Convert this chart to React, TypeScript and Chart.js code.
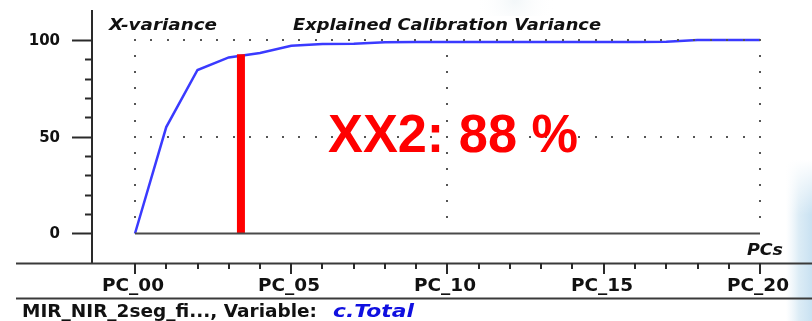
import React, { useEffect, useRef } from 'react';
import { Chart, registerables } from 'chart.js';

Chart.register(...registerables);

// ---- data ----
const pcNumbers = [0, 1, 2, 3, 4, 5, 6, 7, 8, 9, 10, 11, 12, 13, 14, 15, 16, 17, 18, 19, 20];
const xVariance = [0, 55, 84.5, 91, 93.3, 97, 97.9, 98.1, 98.8, 98.9, 98.9, 98.9, 98.9, 98.9, 98.9, 98.9, 98.9, 99.1, 100, 100, 100];
const markerPC = [3.39, 3.39];
const markerValue = [0, 92.6];
const yTickValues = [0, 50, 100];
const yTickLabels = ['0', '50', '100'];
const yMinorTicks = [10, 20, 30, 40, 60, 70, 80, 90];
const xTickValues = [0, 5, 10, 15, 20];
const xTickLabels = ['PC_00', 'PC_05', 'PC_10', 'PC_15', 'PC_20'];
const xMinorTicks = [1, 2, 3, 4, 6, 7, 8, 9, 11, 12, 13, 14, 16, 17, 18, 19];
const gridYValues = [50, 100];
const gridXValues = [0, 10, 20];
const titleLeft = 'X-variance';
const titleMain = 'Explained Calibration Variance';
const axisName = 'PCs';
const bigLabel = 'XX2: 88 %';
const footerText = 'MIR_NIR_2seg_fi..., Variable:';
const footerVar = 'c.Total';

function fitText(ctx: CanvasRenderingContext2D, text: string, x: number, y: number, w: number, font: string, color: string, align: 'left' | 'center' | 'right' = 'left') {
  ctx.save();
  ctx.font = font;
  ctx.fillStyle = color;
  ctx.textBaseline = 'alphabetic';
  ctx.textAlign = 'left';
  const m = ctx.measureText(text).width;
  const s = w / m;
  let x0 = x;
  if (align === 'center') x0 = x - w / 2;
  if (align === 'right') x0 = x - w;
  ctx.translate(x0, y);
  ctx.scale(s, 1);
  ctx.fillText(text, 0, 0);
  ctx.restore();
}

const decor = {
  id: 'decor',
  beforeDraw(chart: any) {
    const ctx: CanvasRenderingContext2D = chart.ctx;
    ctx.save();
    ctx.fillStyle = '#ffffff';
    ctx.fillRect(0, 0, chart.width, chart.height);
    // faint background smudges
    const g = ctx.createLinearGradient(786, 0, 812, 0);
    g.addColorStop(0, 'rgba(220,236,246,0)');
    g.addColorStop(0.5, 'rgba(205,228,242,0.7)');
    g.addColorStop(1, 'rgba(195,222,240,0.9)');
    ctx.fillStyle = g;
    ctx.fillRect(786, 160, 26, 161);
    const g3 = ctx.createLinearGradient(0, 160, 0, 215);
    g3.addColorStop(0, 'rgba(255,255,255,1)');
    g3.addColorStop(1, 'rgba(255,255,255,0)');
    ctx.fillStyle = g3;
    ctx.fillRect(786, 160, 26, 55);
    const g2 = ctx.createRadialGradient(515, 0, 2, 515, 0, 40);
    g2.addColorStop(0, 'rgba(232,240,244,0.5)');
    g2.addColorStop(1, 'rgba(255,255,255,0)');
    ctx.fillStyle = g2;
    ctx.fillRect(465, 0, 100, 16);
    ctx.restore();
  },
  beforeDatasetsDraw(chart: any) {
    const ctx: CanvasRenderingContext2D = chart.ctx;
    const xs = chart.scales.x;
    const ys = chart.scales.y;
    const area = chart.chartArea;
    ctx.save();
    // y axis line
    ctx.strokeStyle = '#2a2a2a';
    ctx.lineWidth = 2;
    ctx.beginPath();
    ctx.moveTo(area.left, area.top);
    ctx.lineTo(area.left, area.bottom);
    ctx.stroke();
    // y ticks
    yTickValues.forEach((v, i) => {
      const y = Math.round(ys.getPixelForValue(v)) + 0.5;
      ctx.beginPath();
      ctx.moveTo(area.left - 20, y);
      ctx.lineTo(area.left, y);
      ctx.stroke();
      ctx.font = 'bold 15px "DejaVu Sans"';
      ctx.fillStyle = '#111';
      ctx.textAlign = 'right';
      ctx.textBaseline = 'middle';
      ctx.fillText(yTickLabels[i], area.left - 32, y + 1);
    });
    yMinorTicks.forEach((v) => {
      const y = Math.round(ys.getPixelForValue(v)) + 0.5;
      ctx.beginPath();
      ctx.moveTo(area.left - 7, y);
      ctx.lineTo(area.left, y);
      ctx.stroke();
    });
    // bottom frame lines
    ctx.strokeStyle = '#3a3a3a';
    ctx.beginPath();
    ctx.moveTo(16, area.bottom + 0.5);
    ctx.lineTo(chart.width, area.bottom + 0.5);
    ctx.moveTo(16, area.bottom + 35.5);
    ctx.lineTo(chart.width, area.bottom + 35.5);
    ctx.stroke();
    // x ticks
    ctx.strokeStyle = '#2a2a2a';
    ctx.lineWidth = 2;
    xTickValues.forEach((v, i) => {
      const x = Math.round(xs.getPixelForValue(v));
      ctx.beginPath();
      ctx.moveTo(x, area.bottom);
      ctx.lineTo(x, area.bottom + 11);
      ctx.stroke();
      fitText(ctx, xTickLabels[i], x - 2, area.bottom + 28, 62, 'bold 18px "DejaVu Sans"', '#111', 'center');
    });
    xMinorTicks.forEach((v) => {
      const x = Math.round(xs.getPixelForValue(v));
      ctx.beginPath();
      ctx.moveTo(x, area.bottom);
      ctx.lineTo(x, area.bottom + 6);
      ctx.stroke();
    });
    // titles
    fitText(ctx, titleLeft, 109, 30, 108, 'italic bold 16px "DejaVu Sans"', '#111');
    fitText(ctx, titleMain, 293, 30, 308, 'italic bold 16px "DejaVu Sans"', '#111');
    fitText(ctx, axisName, 747, 255, 36, 'italic bold 16px "DejaVu Sans"', '#111');
    // footer
    fitText(ctx, footerText, 22, 317, 295, 'bold 17px "DejaVu Sans"', '#111');
    fitText(ctx, footerVar, 333, 317, 81, 'italic bold 17px "DejaVu Sans"', '#1010e0');
    ctx.restore();
  },
  afterDatasetsDraw(chart: any) {
    const ctx: CanvasRenderingContext2D = chart.ctx;
    const xs = chart.scales.x;
    const ys = chart.scales.y;
    ctx.save();
    const x0 = xs.getPixelForValue(0);
    const x20 = xs.getPixelForValue(20);
    const y0 = ys.getPixelForValue(0);
    const y100 = ys.getPixelForValue(100);
    // baseline
    ctx.strokeStyle = '#4a4a4a';
    ctx.lineWidth = 2;
    ctx.beginPath();
    ctx.moveTo(x0, Math.round(y0) + 0.5);
    ctx.lineTo(x20, Math.round(y0) + 0.5);
    ctx.stroke();
    // dotted grid
    ctx.fillStyle = '#555';
    const stepX = (xs.getPixelForValue(10) - x0) / 19;
    gridYValues.forEach((v) => {
      const y = Math.round(ys.getPixelForValue(v));
      for (let x = x0; x <= x20 + 0.5; x += stepX) {
        ctx.fillRect(Math.round(x) - 1, y - 1, 2, 2);
      }
    });
    const stepY = (y0 - y100) / 12;
    gridXValues.forEach((v) => {
      const x = Math.round(xs.getPixelForValue(v));
      for (let y = y100; y < y0 - 4; y += stepY) {
        ctx.fillRect(x - 1, Math.round(y) - 1, 2, 2);
      }
    });
    // big label
    fitText(ctx, bigLabel, 328, 152, 250, 'bold 54px "Liberation Sans"', '#ff0000');
    ctx.restore();
  },
};

export default function App() {
  const ref = useRef<HTMLCanvasElement>(null);
  useEffect(() => {
    document.body.style.margin = '0';
    const canvas = ref.current!;
    const chart = new Chart(canvas, {
      type: 'line',
      data: {
        datasets: [
          {
            label: 'marker',
            data: markerPC.map((x, i) => ({ x, y: markerValue[i] })),
            borderColor: '#ff0000',
            borderWidth: 8,
            borderCapStyle: 'butt',
            pointRadius: 0,
            tension: 0,
          },
          {
            label: 'X-variance',
            data: pcNumbers.map((x, i) => ({ x, y: xVariance[i] })),
            borderColor: 'rgb(58,58,255)',
            borderWidth: 2.5,
            pointRadius: 0,
            tension: 0,
          },
        ],
      },
      options: {
        responsive: false,
        animation: false,
        devicePixelRatio: 1,
        layout: { padding: { left: 92, right: 0, top: 10, bottom: 58 } },
        scales: {
          x: { type: 'linear', min: -1.376, max: 21.664, display: false },
          y: { type: 'linear', min: -15.245, max: 115.5, display: false },
        },
        plugins: { legend: { display: false }, tooltip: { enabled: false } },
      },
      plugins: [decor],
    } as any);
    return () => chart.destroy();
  }, []);
  return (
    <div style={{ width: 812, height: 321 }}>
      <canvas ref={ref} width={812} height={321} style={{ display: 'block' }} />
    </div>
  );
}
